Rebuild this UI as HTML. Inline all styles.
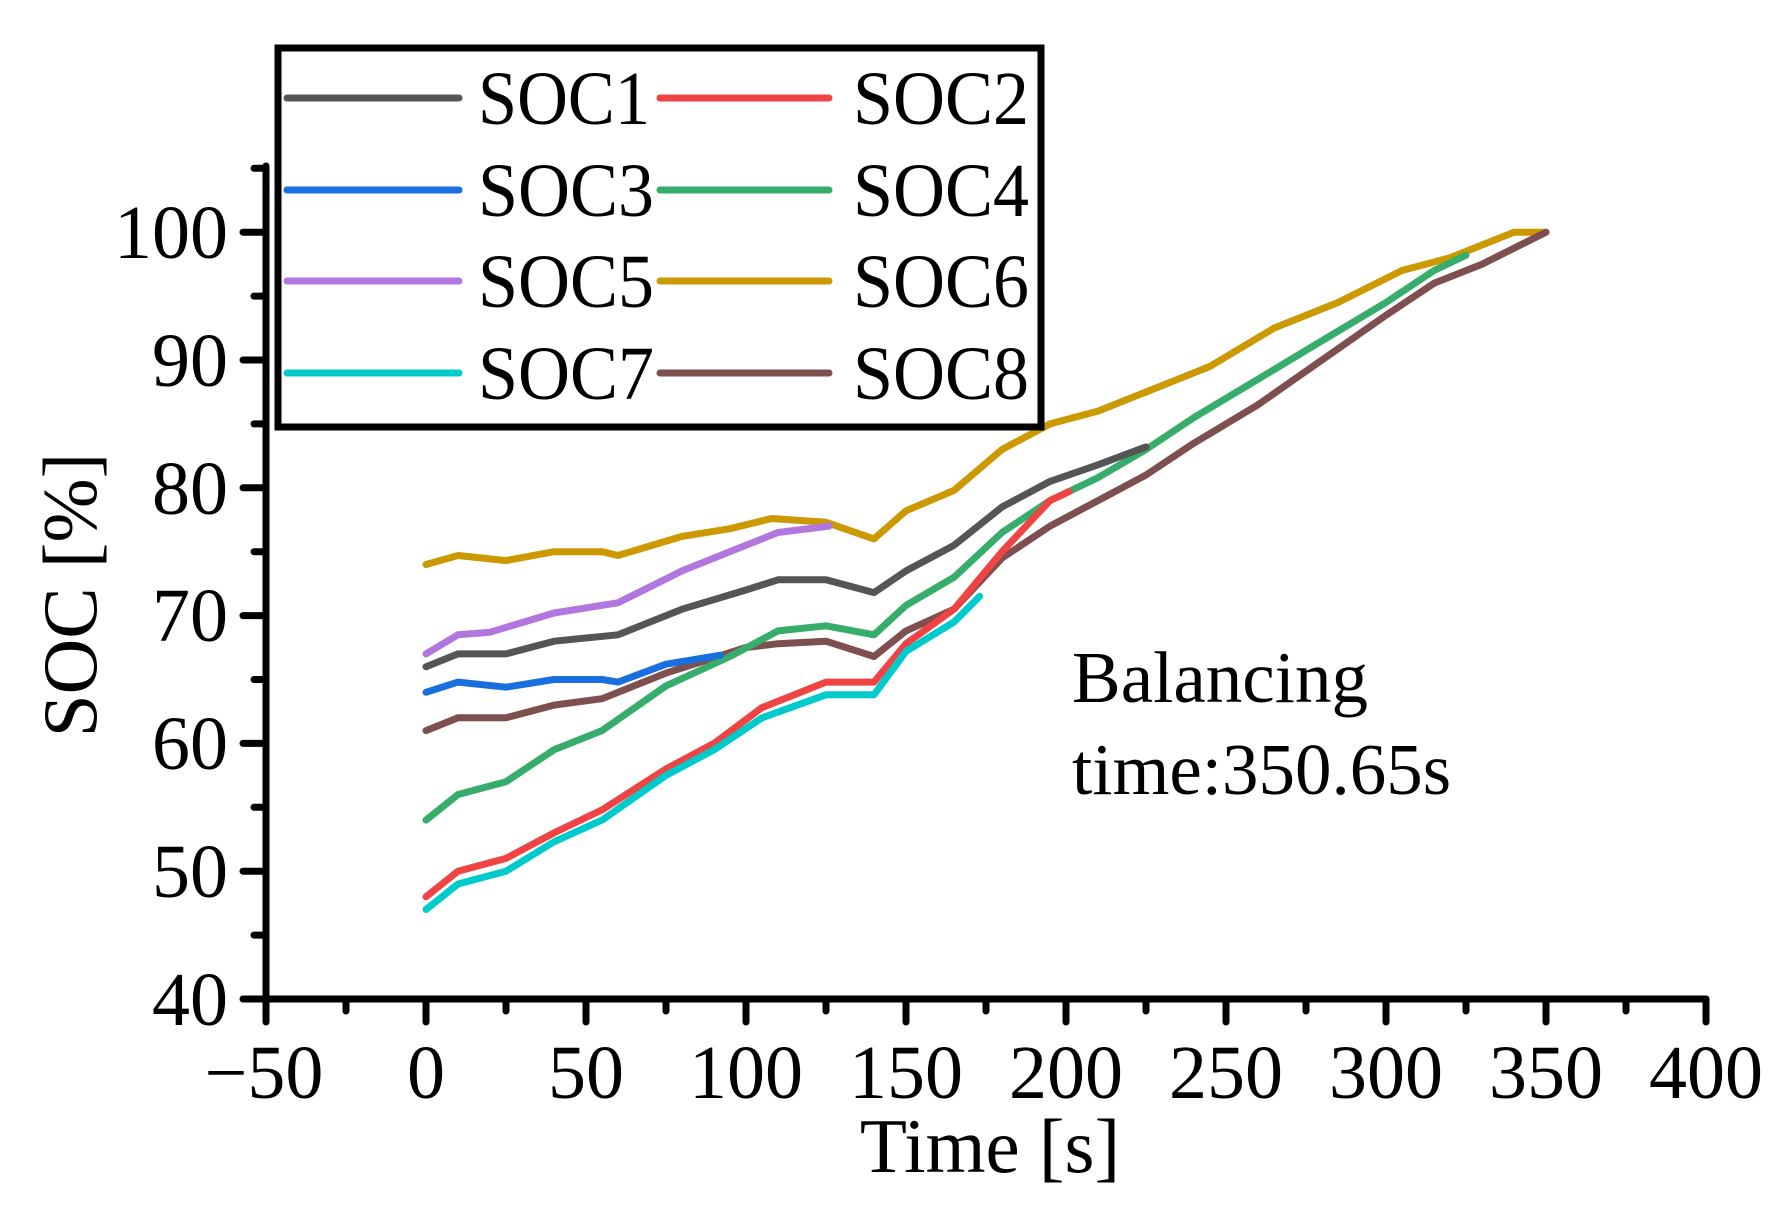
<!DOCTYPE html>
<html><head><meta charset="utf-8"><style>
html,body{margin:0;padding:0;background:#fff;}
svg{display:block;}
text{font-family:"Liberation Serif",serif;fill:#000;}
</style></head><body>
<svg id="s" width="1792" height="1218" viewBox="0 0 1792 1218" xmlns="http://www.w3.org/2000/svg">
<g id="series" fill="none" stroke-width="7" stroke-linejoin="round" stroke-linecap="round"></g>
<g stroke="#000" stroke-linecap="round" id="axes">
<line x1="266" y1="166" x2="266" y2="999" stroke-width="7"/>
<line x1="263" y1="999" x2="1706" y2="999" stroke-width="7"/>
</g>
<g font-size="76" text-anchor="end">
<text x="228" y="1025">40</text>
<text x="228" y="897">50</text>
<text x="228" y="769">60</text>
<text x="228" y="641">70</text>
<text x="228" y="514">80</text>
<text x="228" y="386">90</text>
<text x="228" y="258">100</text>
</g>
<g font-size="76" text-anchor="middle">
<text x="264" y="1098">−50</text>
<text x="426" y="1098">0</text>
<text x="586" y="1098">50</text>
<text x="746" y="1098">100</text>
<text x="906" y="1098">150</text>
<text x="1066" y="1098">200</text>
<text x="1226" y="1098">250</text>
<text x="1386" y="1098">300</text>
<text x="1546" y="1098">350</text>
<text x="1706" y="1098">400</text>
</g>
<text x="990" y="1172" font-size="77" text-anchor="middle">Time [s]</text>
<text transform="translate(96,595) rotate(-90)" font-size="77" text-anchor="middle">SOC [%]</text>
<text x="1072" y="702" font-size="73">Balancing</text>
<text x="1072" y="794" font-size="73">time:350.65s</text>
<rect x="278" y="48" width="763" height="379" fill="#fff" stroke="#000" stroke-width="7"/>
<g stroke-width="7" stroke-linecap="round">
<line x1="287" y1="98" x2="459" y2="98" stroke="#555555"/>
<line x1="660" y1="98" x2="829" y2="98" stroke="#f04444"/>
<line x1="287" y1="190" x2="459" y2="190" stroke="#1a6fdf"/>
<line x1="660" y1="190" x2="829" y2="190" stroke="#37ad6b"/>
<line x1="287" y1="281" x2="459" y2="281" stroke="#b177de"/>
<line x1="660" y1="281" x2="829" y2="281" stroke="#cc9900"/>
<line x1="287" y1="373" x2="459" y2="373" stroke="#00cbcc"/>
<line x1="660" y1="373" x2="829" y2="373" stroke="#7e4f4f"/>
</g>
<g font-size="76">
<text x="478" y="124" textLength="172" lengthAdjust="spacingAndGlyphs">SOC1</text><text x="853" y="124" textLength="176" lengthAdjust="spacingAndGlyphs">SOC2</text>
<text x="478" y="216" textLength="176" lengthAdjust="spacingAndGlyphs">SOC3</text><text x="853" y="216" textLength="176" lengthAdjust="spacingAndGlyphs">SOC4</text>
<text x="478" y="307" textLength="176" lengthAdjust="spacingAndGlyphs">SOC5</text><text x="853" y="307" textLength="176" lengthAdjust="spacingAndGlyphs">SOC6</text>
<text x="478" y="399" textLength="176" lengthAdjust="spacingAndGlyphs">SOC7</text><text x="853" y="399" textLength="176" lengthAdjust="spacingAndGlyphs">SOC8</text>
</g>
</svg>
<script>
var X=function(t){return 426+3.2*t},Y=function(v){return 999-(v-40)*12.78};
var ax=document.getElementById('axes'),ns='http://www.w3.org/2000/svg';
function ln(a,b,c,d,w){var l=document.createElementNS(ns,'line');l.setAttribute('x1',a);l.setAttribute('y1',b);l.setAttribute('x2',c);l.setAttribute('y2',d);l.setAttribute('stroke-width',w);ax.appendChild(l);}
for(var v=40;v<=105;v+=5){var y=Y(v);ln(v%10==0?243:254,y,266,y,7);}
for(var t=-50;t<=400;t+=25){var x=X(t);ln(x,999,x,(t%50==0)?1022:1011,7);}
var S=[
['#cc9900',[[0,74],[10,74.7],[25,74.3],[40,75],[55,75],[60,74.7],[80,76.2],[95,76.8],[108,77.6],[125,77.3],[140,76],[150,78.2],[165,79.8],[180,83],[195,85],[210,86],[230,88],[245,89.5],[265,92.5],[285,94.5],[305,97],[320,98],[340,100],[350,100]]],
['#7e4f4f',[[0,61],[10,62],[25,62],[40,63],[55,63.5],[75,65.5],[100,67.5],[110,67.8],[125,68],[140,66.8],[150,68.8],[165,70.5],[180,74.5],[195,77],[210,79],[225,81],[240,83.5],[260,86.5],[280,90],[300,93.5],[315,96],[330,97.5],[350,100]]],
['#37ad6b',[[0,54],[10,56],[25,57],[40,59.5],[55,61],[75,64.5],[95,66.8],[110,68.8],[125,69.2],[140,68.5],[150,70.8],[165,73],[180,76.5],[195,79],[210,80.8],[225,83],[240,85.5],[260,88.5],[280,91.5],[300,94.5],[315,97],[325,98.2]]],
['#555555',[[0,66],[10,67],[25,67],[40,68],[60,68.5],[80,70.5],[100,72],[110,72.8],[125,72.8],[140,71.8],[150,73.5],[165,75.5],[180,78.5],[195,80.5],[210,81.8],[225,83.2]]],
['#b177de',[[0,67],[10,68.5],[20,68.7],[40,70.2],[60,71],[80,73.5],[100,75.5],[110,76.5],[126,77]]],
['#1a6fdf',[[0,64],[10,64.8],[25,64.4],[40,65],[55,65],[60,64.8],[75,66.2],[92,66.9]]],
['#f04444',[[0,48],[10,50],[25,51],[40,53],[55,54.8],[75,58],[90,60],[105,62.8],[125,64.8],[140,64.8],[150,67.8],[165,70.5],[180,75],[195,79],[201,79.7]]],
['#00cbcc',[[0,47],[10,49],[25,50],[40,52.3],[55,54],[75,57.5],[90,59.5],[105,62],[125,63.8],[140,63.8],[150,67.2],[165,69.5],[173,71.5]]]
];
var g=document.getElementById('series');
S.forEach(function(s){var p=document.createElementNS(ns,'polyline');p.setAttribute('stroke',s[0]);p.setAttribute('points',s[1].map(function(q){return X(q[0]).toFixed(1)+','+Y(q[1]).toFixed(1)}).join(' '));g.appendChild(p);});
</script>
</body></html>
